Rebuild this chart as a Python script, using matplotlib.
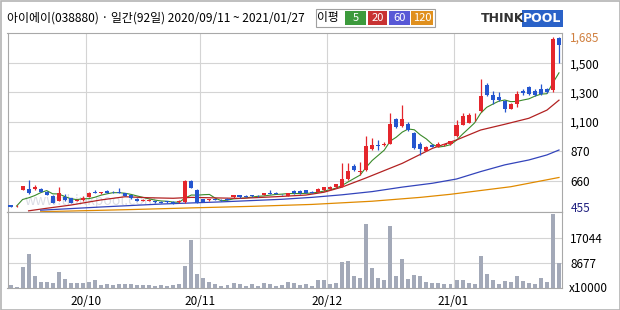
import matplotlib.pyplot as plt
from matplotlib.patches import Rectangle
import numpy as np
import pandas as pd

plt.rcParams['font.family'] = ['Noto Sans CJK KR', 'DejaVu Sans']

title = '아이에이(038880) · 일간(92일) 2020/09/11 ~ 2021/01/27'
month_pos = [12.5, 31.5, 52.5, 73.5]
month_labels = ['20/10', '20/11', '20/12', '21/01']

# 일봉 (시가, 고가, 저가, 종가)
opens = [467, 460, 590, 593, 593, 595, 574, 540, 504, 535,
         523, 505, 510, 535, 570, 562, 582, 573, 572, 562,
         545, 520, 505, 503, 500, 497, 500, 496, 493, 492,
         655, 587, 515, 508, 514, 510, 520, 530, 548, 537,
         546, 542, 548, 563, 564, 556, 541, 582, 580, 587,
         572, 572, 587, 593, 608, 613, 672, 765, 725, 736,
         885, 920, 918, 929, 1117, 1065, 1087, 1012, 929, 875,
         920, 904, 922, 924, 992, 1080, 1095, 1145, 1176, 1350,
         1281, 1270, 1243, 1190, 1220, 1310, 1335, 1310, 1320, 1325,
         1316, 1680]
highs = [470, 470, 620, 665, 625, 600, 578, 545, 610, 560,
         528, 518, 540, 570, 590, 572, 585, 578, 600, 566,
         548, 525, 520, 515, 505, 500, 505, 500, 510, 662,
         665, 595, 518, 518, 520, 515, 523, 552, 552, 550,
         550, 548, 565, 587, 568, 560, 565, 586, 585, 590,
         576, 605, 612, 615, 636, 784, 784, 780, 795, 990,
         975, 960, 940, 1158, 1125, 1213, 1100, 1020, 940, 910,
         925, 945, 930, 952, 1115, 1160, 1160, 1160, 1392, 1362,
         1310, 1300, 1250, 1225, 1310, 1325, 1345, 1320, 1360, 1330,
         1685, 1685]
lows = [455, 458, 585, 560, 585, 568, 545, 485, 500, 505,
        485, 500, 505, 530, 562, 558, 562, 565, 562, 540,
        520, 500, 502, 498, 490, 485, 490, 475, 490, 488,
        600, 485, 492, 505, 508, 505, 508, 527, 528, 530,
        536, 536, 545, 556, 556, 550, 538, 558, 558, 563,
        563, 568, 583, 590, 604, 608, 668, 730, 700, 730,
        880, 880, 910, 925, 1055, 1060, 1030, 885, 842, 870,
        900, 900, 915, 920, 985, 1075, 1090, 1110, 1170, 1275,
        1220, 1240, 1165, 1185, 1200, 1280, 1280, 1275, 1280, 1295,
        1300, 1500]
closes = [458, 466, 616, 566, 613, 572, 548, 489, 562, 510,
          489, 512, 523, 566, 565, 568, 566, 568, 566, 543,
          523, 505, 512, 508, 495, 490, 494, 478, 505, 660,
          605, 488, 496, 515, 512, 507, 510, 548, 530, 533,
          540, 540, 562, 560, 560, 554, 562, 562, 562, 566,
          567, 593, 608, 610, 632, 672, 729, 736, 730, 909,
          917, 912, 925, 1087, 1062, 1117, 1035, 893, 885, 904,
          904, 929, 926, 948, 1080, 1140, 1147, 1150, 1275, 1281,
          1247, 1247, 1190, 1220, 1288, 1293, 1288, 1281, 1288, 1302,
          1670, 1630]
# 거래량 (x10000)
volumes = [860, 500, 7130, 11490, 4050, 2000, 2000, 1540, 5420, 2900,
           1540, 1540, 1540, 2120, 2570, 970, 1200, 970, 1200, 1200,
           1200, 970, 970, 970, 740, 970, 740, 970, 1200, 7370,
           16290, 4630, 3500, 1890, 1200, 750, 860, 1540, 1200, 750,
           1200, 750, 1540, 1200, 750, 970, 1890, 1540, 970, 1200,
           750, 2810, 2810, 1200, 1540, 8750, 9090, 3940, 3500, 21780,
           6930, 3500, 2570, 21100, 3940, 9780, 2920, 4290, 3940, 1890,
           1540, 1540, 1200, 1200, 2570, 2570, 1540, 1200, 10920, 4750,
           2570, 1200, 2230, 1890, 3940, 2230, 1540, 1200, 3260, 1890,
           25210, 8500]

# 이동평균선
ma20_idx = [3, 6, 10, 15, 19, 23, 27, 30, 35, 38, 44, 49, 52, 55, 59, 65, 70, 74, 78, 82, 86, 89, 91]
ma20_val = [425, 445, 470, 510, 535, 527, 523, 530, 525, 522, 535, 548, 570, 610, 680, 784, 893, 959, 1037, 1082, 1125, 1180, 1247]
ma60_idx = [5, 15, 25, 35, 45, 50, 55, 60, 65, 70, 74, 78, 82, 86, 89, 91]
ma60_val = [430, 455, 478, 495, 515, 530, 550, 575, 610, 640, 672, 725, 773, 808, 844, 880]
ma120_idx = [5, 20, 30, 40, 50, 60, 68, 73, 83, 91]
ma120_val = [418, 435, 448, 460, 475, 500, 530, 554, 613, 683]

price_ticks = [455, 660, 870, 1100, 1300, 1500, 1685]
price_labels = ['455', '660', '870', '1,100', '1,300', '1,500', '1,685']
vol_ticks = [8677, 17044]

# 가격축 눈금 간격이 일정하지 않아서 구간별 선형 스케일 사용
knot_p = [0, 455, 660, 870, 1100, 1300, 1500, 1685, 3000]
knot_y = [44.6, 103, 129.3, 158.7, 188, 217.7, 246.7, 273, 460]
fwd = lambda v: np.interp(v, knot_p, knot_y)
inv = lambda y: np.interp(y, knot_y, knot_p)

W, H = 620, 310
fig = plt.figure(figsize=(6.2, 3.1), dpi=100)
fig.patch.set_facecolor('white')

def px(x0, y0, x1, y1):
    return [x0 / W, 1 - y1 / H, (x1 - x0) / W, (y1 - y0) / H]

ax = fig.add_axes(px(7.5, 33, 562, 212))
axv = fig.add_axes(px(7.5, 212, 562, 288), sharex=ax)

n = len(closes)
x = np.arange(n)
o = np.array(opens); c = np.array(closes)
up = c >= o
col = np.where(up, '#e4262c', '#2556cf')

ax.set_yscale('function', functions=(fwd, inv))
ax.vlines(x, lows, highs, colors=col, lw=0.9, zorder=3)
body_lo = np.minimum(o, c)
body_h = np.maximum(np.abs(c - o), 4)
ax.bar(x, body_h, bottom=body_lo, width=0.68, color=col, zorder=4)

ma5 = pd.Series(closes).rolling(5, min_periods=1).mean()
ax.plot(x[1:], ma5[1:], color='#3a8a2a', lw=0.8, zorder=2)
ax.plot(ma20_idx, ma20_val, color='#b22222', lw=0.9, zorder=2)
ax.plot(ma60_idx, ma60_val, color='#3344bb', lw=0.9, zorder=2)
ax.plot(ma120_idx, ma120_val, color='#e08a00', lw=0.9, zorder=2)

ax.set_xlim(-0.5, n - 0.5)
ax.set_ylim(416, 1713)
for v in price_ticks[1:-1]:
    ax.axhline(v, color='#d4d4d4', lw=0.8, zorder=0)
for m in month_pos:
    ax.axvline(m, color='#d4d4d4', lw=0.8, zorder=0)
ax.set_yticks(price_ticks)
ax.set_yticks([], minor=True)
ax.set_yticklabels(price_labels)
ax.yaxis.tick_right()
ax.tick_params(axis='y', length=0, pad=6, labelsize=8.5)
ax.tick_params(axis='x', length=0, labelbottom=False)
tl = ax.get_yticklabels()
tl[-1].set_color('#d08040')
tl[0].set_color('#202080')
ax.text(0.03, 0.02, 'www.thinkpool.com', transform=ax.transAxes, fontsize=10,
        color='#b8bccc', alpha=0.5, ha='left', va='bottom', zorder=1)

axv.bar(x, volumes, width=0.66, color='#a3a9b8', zorder=3)
axv.set_ylim(0, 25900)
for v in vol_ticks:
    axv.axhline(v, color='#d4d4d4', lw=0.8, zorder=0)
for m in month_pos:
    axv.axvline(m, color='#d4d4d4', lw=0.8, zorder=0)
axv.set_yticks(vol_ticks)
axv.set_yticklabels([str(v) for v in vol_ticks])
axv.yaxis.tick_right()
axv.tick_params(axis='y', length=0, pad=6, labelsize=8.5)
axv.set_xticks(month_pos)
axv.set_xticklabels(month_labels)
axv.tick_params(axis='x', length=0, pad=5, labelsize=8.5)
axv.text(1.013, 0.0, 'x10000', transform=axv.transAxes, fontsize=8.5, va='center', ha='left')

for a in (ax, axv):
    for s in a.spines.values():
        s.set_color('#a8a8a8')
        s.set_linewidth(0.8)

# 머리글
fig.text(7 / W, 1 - 18 / H, title, fontsize=8.6, va='center', ha='left')
fig.patches.append(Rectangle((316 / W, 1 - 27 / H), 119 / W, 18 / H, transform=fig.transFigure,
                             facecolor='white', edgecolor='#a0a0a0', lw=0.8))
fig.text(328 / W, 1 - 18 / H, '이평', fontsize=8.5, va='center', ha='center')
legend_items = [('5', '#3c9a3c', 345, 366), ('20', '#c83232', 368, 387),
                ('60', '#5858d6', 389, 410), ('120', '#e0901e', 411, 433)]
for lab, cc, x0, x1 in legend_items:
    fig.patches.append(Rectangle((x0 / W, 1 - 25 / H), (x1 - x0) / W, 14 / H,
                                 transform=fig.transFigure, facecolor=cc, edgecolor='none'))
    fig.text((x0 + x1) / 2 / W, 1 - 18 / H, lab, fontsize=8, color='white', va='center', ha='center')

fig.text(481 / W, 1 - 18 / H, 'THINK', fontsize=9, fontweight='bold', color='#333333',
         va='center', ha='left', family='DejaVu Sans')
fig.patches.append(Rectangle((522 / W, 1 - 27 / H), 41 / W, 17 / H, transform=fig.transFigure,
                             facecolor='#2a62c8', edgecolor='none'))
fig.text(542.5 / W, 1 - 18.5 / H, 'POOL', fontsize=9, fontweight='bold', color='white',
         va='center', ha='center', family='DejaVu Sans')

fig.patches.append(Rectangle((0.5 / W, 0.5 / H), (W - 1) / W, (H - 1) / H, transform=fig.transFigure,
                             facecolor='none', edgecolor='#b4b4b4', lw=1.2))

fig.savefig('out.png', dpi=100)
